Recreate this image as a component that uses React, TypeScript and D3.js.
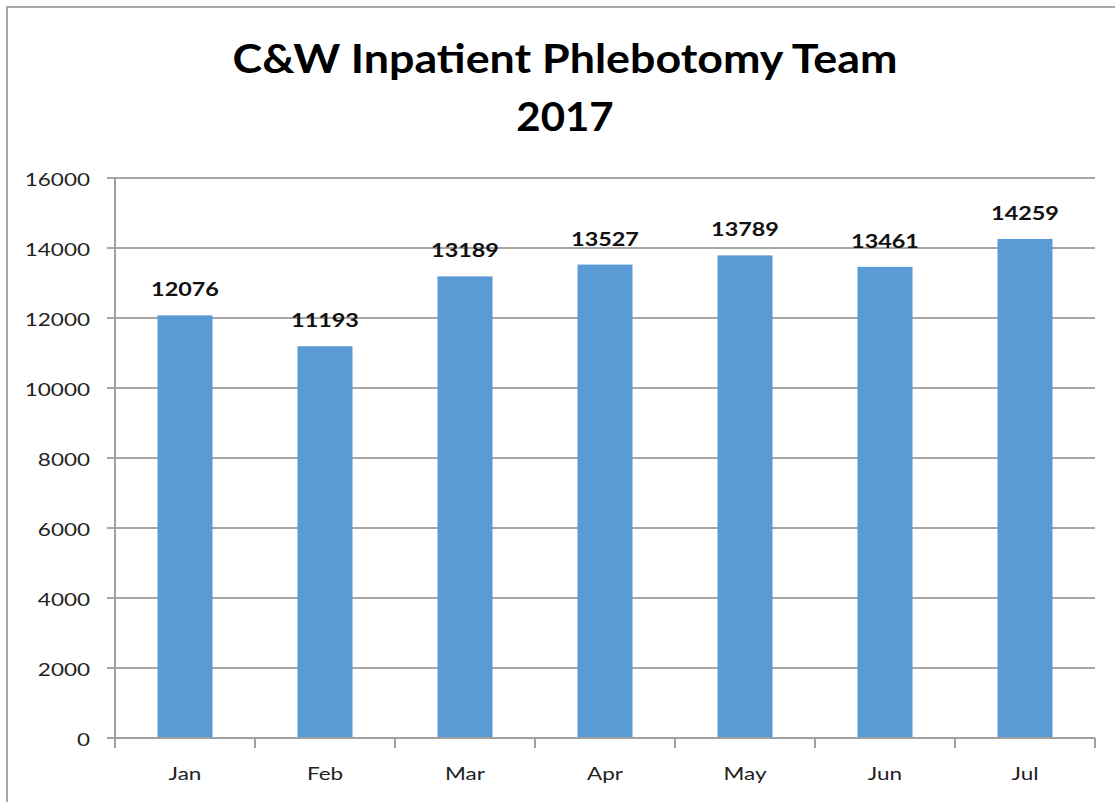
import React, { useEffect, useRef } from 'react';
import * as d3 from 'd3';

const months = ['Jan', 'Feb', 'Mar', 'Apr', 'May', 'Jun', 'Jul'];
const draws = [12076, 11193, 13189, 13527, 13789, 13461, 14259];
const yTicks = [0, 2000, 4000, 6000, 8000, 10000, 12000, 14000, 16000];
const titleLines = ['C&W Inpatient Phlebotomy Team', '2017'];

const W = 1115;
const H = 802;
const FONT = 'Lato, "Open Sans", sans-serif';
const SX = 1.25; // the reference text is stretched horizontally

export default function App() {
  const svgRef = useRef<SVGSVGElement>(null);

  useEffect(() => {
    document.body.style.margin = '0';
    if (!svgRef.current) return;
    const svg = d3.select(svgRef.current);
    svg.selectAll('*').remove();

    const left = 115, right = 1095, top = 178, bottom = 738;

    const x = d3.scaleBand<string>()
      .domain(months)
      .range([left, right])
      .paddingInner(0.607)
      .paddingOuter(0.3035);

    const y = d3.scaleLinear().domain([0, 16000]).range([bottom, top]);

    // outer frame (only left and top visible in the crop)
    svg.append('path')
      .attr('d', `M7,${H} L7,7 L${W},7`)
      .attr('fill', 'none')
      .attr('stroke', '#a6a6a6')
      .attr('stroke-width', 2);

    // gridlines
    svg.append('g')
      .selectAll('line')
      .data(yTicks.filter(d => d > 0))
      .join('line')
      .attr('x1', left - 8)
      .attr('x2', right)
      .attr('y1', d => y(d))
      .attr('y2', d => y(d))
      .attr('stroke', '#a6a6a6')
      .attr('stroke-width', 2);

    // bars
    svg.append('g')
      .selectAll('rect')
      .data(draws)
      .join('rect')
      .attr('x', (_, i) => x(months[i])!)
      .attr('y', d => y(d))
      .attr('width', x.bandwidth())
      .attr('height', d => y(0) - y(d))
      .attr('fill', '#5b9bd5');

    // axes
    svg.append('line')
      .attr('x1', left).attr('x2', left)
      .attr('y1', top).attr('y2', bottom + 1)
      .attr('stroke', '#a0a0a0').attr('stroke-width', 2);
    svg.append('line')
      .attr('x1', left - 8).attr('x2', right)
      .attr('y1', bottom).attr('y2', bottom)
      .attr('stroke', '#a0a0a0').attr('stroke-width', 2);

    // x tick marks at band boundaries
    const step = x.step();
    svg.append('g')
      .selectAll('line')
      .data(d3.range(months.length + 1))
      .join('line')
      .attr('x1', i => left + i * step)
      .attr('x2', i => left + i * step)
      .attr('y1', bottom)
      .attr('y2', bottom + 10)
      .attr('stroke', '#a0a0a0')
      .attr('stroke-width', 2);

    const label = (g: d3.Selection<any, any, any, any>) =>
      g.attr('font-family', FONT).attr('fill', '#000');

    // y labels
    svg.append('g').call(label)
      .selectAll('text')
      .data(yTicks)
      .join('text')
      .attr('transform', d => `translate(90,${y(d) + 8}) scale(${SX},1)`)
      .attr('text-anchor', 'end')
      .attr('font-size', 18)
      .attr('fill', '#222')
      .text(d => String(d));

    // x labels
    svg.append('g').call(label)
      .selectAll('text')
      .data(months)
      .join('text')
      .attr('transform', d => `translate(${x(d)! + x.bandwidth() / 2},780) scale(${SX},1)`)
      .attr('text-anchor', 'middle')
      .attr('font-size', 18)
      .attr('fill', '#222')
      .text(d => d);

    // data labels
    svg.append('g').call(label)
      .selectAll('text')
      .data(draws)
      .join('text')
      .attr('transform', (d, i) => `translate(${x(months[i])! + x.bandwidth() / 2},${y(d) - 19}) scale(1.2,1)`)
      .attr('text-anchor', 'middle')
      .attr('font-size', 19.5)
      .attr('font-weight', 700)
      .attr('fill', '#111')
      .text(d => String(d));

    // title
    svg.append('g').call(label)
      .selectAll('text')
      .data(titleLines)
      .join('text')
      .attr('transform', (_, i) => `translate(565,${73 + i * 58}) scale(${i === 0 ? 1.12 : 1.05},1)`)
      .attr('text-anchor', 'middle')
      .attr('font-size', 40)
      .attr('font-weight', 700)
      .text(d => d);
  }, []);

  return (
    <svg ref={svgRef} width={W} height={H} style={{ display: 'block', background: '#fff' }} />
  );
}
